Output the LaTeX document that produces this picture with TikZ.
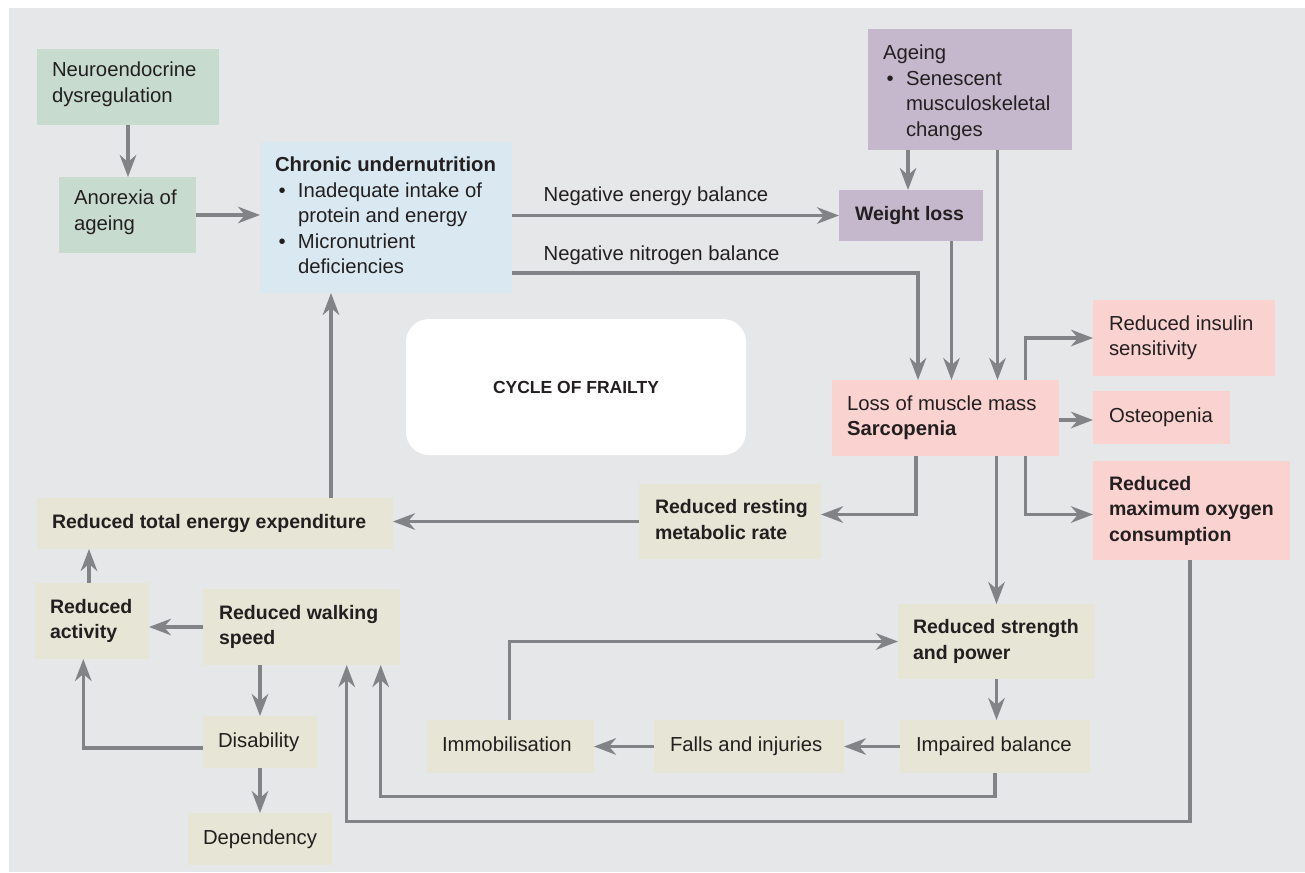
\documentclass[tikz,border=0pt]{standalone}
\usepackage{fontspec}
\setmainfont{Liberation Sans}
\usetikzlibrary{arrows.meta}
\definecolor{bgc}{HTML}{E6E7E8}
\definecolor{cgreen}{HTML}{C8DBCF}
\definecolor{cblue}{HTML}{DAE9F1}
\definecolor{cpurple}{HTML}{C5B8CD}
\definecolor{cpink}{HTML}{FAD3D1}
\definecolor{cbeige}{HTML}{E7E5D5}
\definecolor{carrow}{HTML}{828386}
\definecolor{ctext}{HTML}{231F20}
\newcommand\tb[2]{\makebox[#1pt][l]{\begin{tabular}{@{}l@{}}#2\end{tabular}}}
\newcommand\bul{\makebox[23pt][l]{\hspace{3.6pt}\textbullet}}
\begin{document}
\begin{tikzpicture}[x=1pt,y=-1pt,
  box/.style={inner sep=0pt, outer sep=0pt, draw=none, text=ctext,
    font=\fontsize{20.3pt}{25.5pt}\selectfont},
  bbox/.style={box, font=\bfseries\fontsize{19.5pt}{25.5pt}\selectfont},
  sz/.style args={#1/#2}{minimum width=#1pt, minimum height=#2pt},
  arr/.style={draw=carrow, line width=3.4pt,
    -{Stealth[length=22pt,width=16.5pt,inset=7pt]}},
  lbl/.style={inner sep=0pt, text=ctext, anchor=base west,
    font=\fontsize{20.3pt}{25.5pt}\selectfont}]
\useasboundingbox (0,0) rectangle (1305,872);
\fill[bgc] (9,8) rectangle (1305,872);

% boxes
\node[box, fill=cgreen, sz=182/76] (neuro) at (128,87) {\raisebox{2.4pt}[\height][\depth]{\tb{152}{Neuroendocrine\\dysregulation}}};
\node[box, fill=cgreen, sz=137/76] (anorexia) at (127.5,215) {\raisebox{2.4pt}[\height][\depth]{\tb{107}{Anorexia of\\ageing}}};
\node[box, fill=cblue, sz=252/151] (chronic) at (386,217.5) {\tb{222}{\textbf{Chronic undernutrition}\\
  \bul Inadequate intake of\\ \hspace*{23pt}protein and energy\\ \bul Micronutrient\\ \hspace*{23pt}deficiencies}};
\node[box, fill=cpurple, sz=204/121] (ageing) at (970,89.5) {\raisebox{-3.5pt}[\height][\depth]{\tb{174}{Ageing\\ \bul Senescent\\ \hspace*{23pt}musculoskeletal\\ \hspace*{23pt}changes}}};
\node[bbox, fill=cpurple, sz=144/51] (weight) at (911,215.5) {\tb{112}{Weight loss}};
\node[box, fill=cpink, sz=227/76] (sarc) at (945.5,418) {\tb{197}{Loss of muscle mass\\ \textbf{Sarcopenia}}};
\node[box, fill=cpink, sz=182/76] (insulin) at (1184,338) {\tb{150}{Reduced insulin\\sensitivity}};
\node[box, fill=cpink, sz=137/53] (osteo) at (1161.5,417.5) {\tb{105}{Osteopenia}};
\node[bbox, fill=cpink, sz=197/99] (oxygen) at (1191.5,510.5) {\tb{165}{Reduced\\maximum oxygen\\consumption}};
\node[bbox, fill=cbeige, sz=182/75] (resting) at (730,521.5) {\tb{150}{Reduced resting\\metabolic rate}};
\node[bbox, fill=cbeige, sz=356/51] (total) at (215,523.5) {\tb{326}{Reduced total energy expenditure}};
\node[bbox, fill=cbeige, sz=114/76] (activity) at (92,621) {\tb{84}{Reduced\\activity}};
\node[bbox, fill=cbeige, sz=197/76] (walking) at (301.5,627) {\tb{165}{Reduced walking\\speed}};
\node[box, fill=cbeige, sz=114/52] (disab) at (260,742) {\tb{84}{Disability}};
\node[box, fill=cbeige, sz=144/52] (depend) at (260,839) {\tb{114}{Dependency}};
\node[bbox, fill=cbeige, sz=197/75] (strength) at (996.5,641.5) {\tb{167}{Reduced strength\\and power}};
\node[box, fill=cbeige, sz=190/53] (impaired) at (995,746.5) {\tb{158}{Impaired balance}};
\node[box, fill=cbeige, sz=190/53] (falls) at (749,746.5) {\tb{158}{Falls and injuries}};
\node[box, fill=cbeige, sz=167/53] (immob) at (510.5,746.5) {\tb{137}{Immobilisation}};
\node[box, fill=white, rounded corners=23pt, sz=340/136,
  font=\bfseries\fontsize{17.5pt}{20pt}\selectfont] (cycle) at (576,387) {CYCLE OF FRAILTY};

% connectors
\draw[arr] (neuro.south) -- (neuro.south |- anorexia.north);
\draw[arr] (anorexia.east) -- (anorexia.east -| chronic.west);
\draw[arr] (chronic.east |- weight.west) --
  node[lbl, pos=0, xshift=30pt, yshift=14pt] (lblE) {Negative energy balance} (weight.west);
\draw[arr] ([yshift=20pt]chronic.south east)
  node[lbl, xshift=30pt, yshift=13pt] (lblN) {Negative nitrogen balance}
  -| ([xshift=-27.5pt]sarc.north);
\draw[arr] ([xshift=-3pt]weight.north |- ageing.south) -- ([xshift=-3pt]weight.north);
\draw[arr] ([xshift=52pt]sarc.north |- ageing.south) -- ([xshift=52pt]sarc.north);
\draw[arr] ([xshift=6pt]sarc.north |- weight.south) -- ([xshift=6pt]sarc.north);
\draw[arr] ([xshift=80pt]sarc.north) |- (insulin.west);
\draw[arr] ([yshift=-2pt]sarc.east) -- ([yshift=-2pt]sarc.east -| osteo.west);
\draw[arr] ([xshift=80pt]sarc.south) |- ([yshift=-4pt]oxygen.west);
\draw[arr] (strength.north |- sarc.south) -- (strength.north);
\draw[arr] ([xshift=-29.5pt]sarc.south) |- ([yshift=7pt]resting.east);
\draw[arr] (resting.west) -- (resting.west -| total.east);
\draw[arr] ([xshift=116pt]total.north) -- ([xshift=116pt]total.north |- chronic.south);
\draw[arr] ([xshift=-3pt]activity.north) -- ([xshift=-3pt]activity.north |- total.south);
\draw[arr] (walking.west) -- (walking.west -| activity.east);
\draw[arr] (disab.north |- walking.south) -- (disab.north);
\draw[arr] ([yshift=-6pt]disab.west) -| ([xshift=-8.7pt]activity.south);
\draw[arr] (disab.south) -- (disab.south |- depend.north);
\draw[arr] (strength.south) -- (strength.south |- impaired.north);
\draw[arr] (impaired.west) -- (impaired.west -| falls.east);
\draw[arr] (falls.west) -- (falls.west -| immob.east);
\draw[arr] ([xshift=-1pt]immob.north) |- (strength.west);
\draw[arr] (impaired.south) -- ++(0pt,-23.7pt) -| ([xshift=79.2pt]walking.south);
\draw[arr] ([xshift=-1.5pt]oxygen.south) -- ++(0pt,-261.7pt) -| ([xshift=45.2pt]walking.south);
\end{tikzpicture}
\end{document}
